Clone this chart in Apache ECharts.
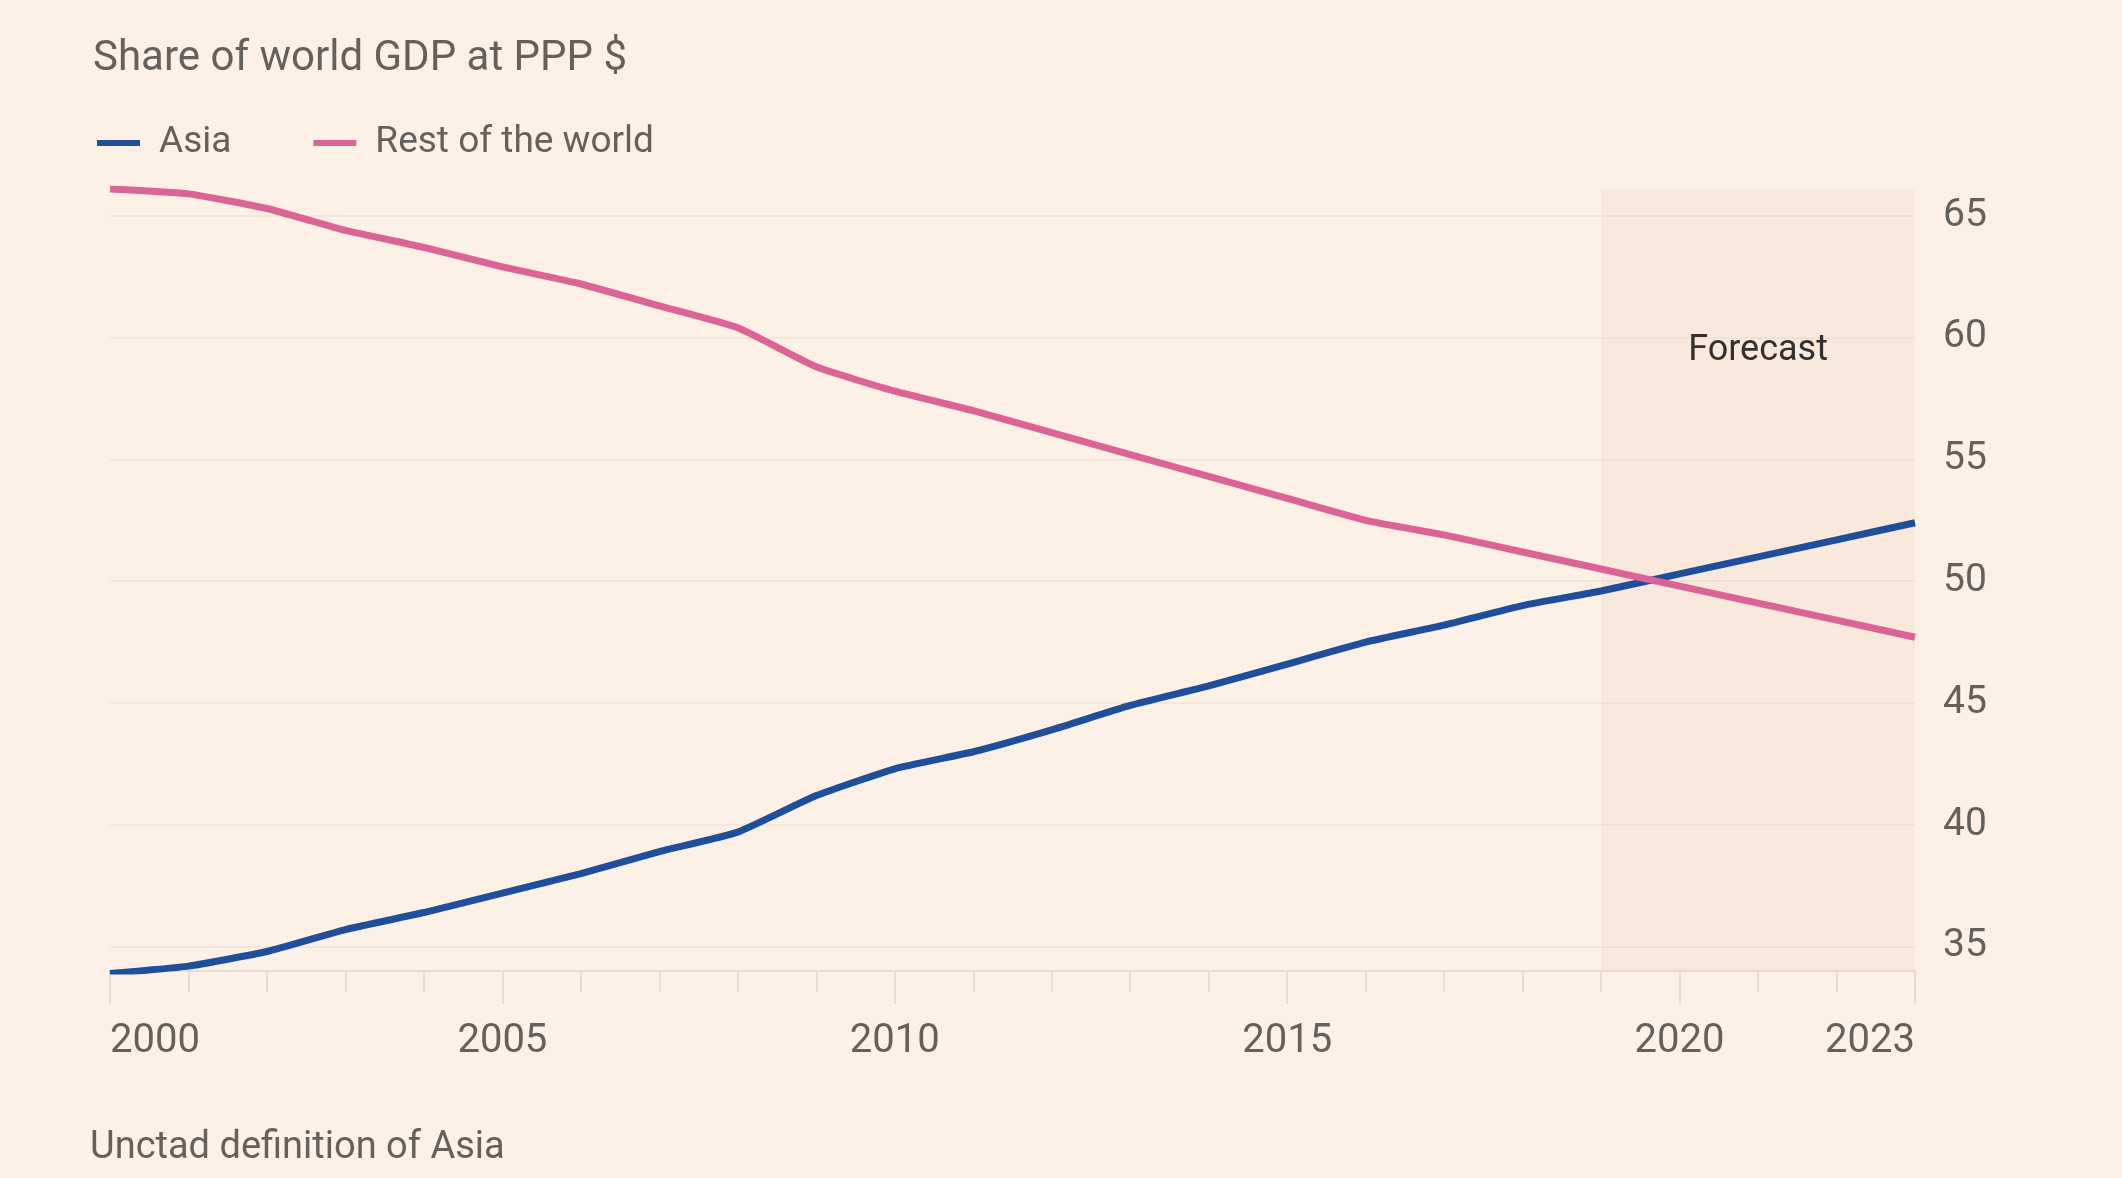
<!DOCTYPE html>
<html>
<head>
<meta charset="utf-8">
<style>
  html, body { margin: 0; padding: 0; background: #fdf1e7; }
  #chart { width: 2122px; height: 1178px; }
</style>
<script src="https://cdn.jsdelivr.net/npm/echarts@6/dist/echarts.min.js"></script>
</head>
<body>
<div id="chart"></div>
<script>
// share of world GDP at PPP $, per cent
var years = ['2000', '2001', '2002', '2003', '2004', '2005', '2006', '2007', '2008', '2009', '2010', '2011',
             '2012', '2013', '2014', '2015', '2016', '2017', '2018', '2019', '2020', '2021', '2022', '2023'];
var asia = [33.9, 34.2, 34.8, 35.7, 36.4, 37.2, 38.0, 38.9, 39.7, 41.2, 42.3, 43.0,
            43.9, 44.9, 45.7, 46.6, 47.5, 48.2, 49.0, 49.6, 50.3, 51.0, 51.7, 52.4];
var restOfWorld = [66.1, 65.9, 65.3, 64.4, 63.7, 62.9, 62.2, 61.3, 60.4, 58.8, 57.8, 57.0,
                   56.1, 55.2, 54.3, 53.4, 52.5, 51.9, 51.2, 50.5, 49.8, 49.1, 48.4, 47.7];
var yTicks = [35, 40, 45, 50, 55, 60, 65];
var labelYears = ['2000', '2005', '2010', '2015', '2020', '2023'];
var forecastFrom = '2019', forecastTo = '2023';

var font = 'Roboto, "Open Sans", sans-serif';
var grey = '#66605c';
var faint = '#e8dbd0';

var chart = echarts.init(document.getElementById('chart'));

function isLabelYear(idx, value) {
    return labelYears.indexOf(value) >= 0;
}

chart.setOption({
    backgroundColor: '#fdf1e7',
    animation: false,
    textStyle: { fontFamily: font },
    title: {
        text: 'Share of world GDP at PPP $',
        left: 88,
        top: 31,
        textStyle: { fontSize: 42, fontWeight: 'normal', color: grey, fontFamily: font, lineHeight: 46 }
    },
    legend: {
        left: 92,
        top: 119,
        icon: 'rect',
        itemWidth: 43,
        itemHeight: 6,
        itemGap: 82,
        textStyle: { fontSize: 37, color: grey, fontFamily: font, lineHeight: 38, padding: [0, 0, 0, 14] },
        data: ['Asia', 'Rest of the world']
    },
    grid: { left: 110, right: 207, top: 189, bottom: 207 },
    xAxis: [{
        type: 'category',
        data: years,
        boundaryGap: false,
        axisLine: { lineStyle: { color: faint, width: 2 } },
        axisTick: { interval: 0, length: 21, lineStyle: { color: faint, width: 2 } },
        axisLabel: {
            interval: isLabelYear,
            margin: 51,
            fontSize: 40,
            color: grey,
            fontFamily: font,
            alignMinLabel: 'left',
            alignMaxLabel: 'right'
        }
    }, {
        type: 'category',
        data: years,
        boundaryGap: false,
        position: 'bottom',
        axisLine: { show: false },
        axisTick: { interval: isLabelYear, length: 33, lineStyle: { color: faint, width: 2 } },
        axisLabel: { show: false }
    }],
    yAxis: {
        type: 'value',
        position: 'right',
        min: 34,
        max: 66.1,
        axisLine: { show: false },
        axisTick: { show: false, customValues: yTicks },
        splitLine: { lineStyle: { color: '#f3e6dc', width: 2 } },
        axisLabel: {
            customValues: yTicks,
            margin: 28,
            fontSize: 39,
            color: grey,
            fontFamily: font
        }
    },
    series: [{
        name: 'Asia',
        type: 'line',
        data: asia,
        smooth: 0.15,
        showSymbol: false,
        color: '#1f4f9a',
        lineStyle: { width: 7, color: '#1f4f9a' },
        markArea: {
            silent: true,
            itemStyle: { color: 'rgba(223,176,146,0.13)' },
            label: {
                position: ['50%', 162],
                align: 'center',
                verticalAlign: 'middle',
                fontSize: 36,
                color: '#33302e',
                fontFamily: font
            },
            data: [[{ xAxis: forecastFrom, name: 'Forecast' }, { xAxis: forecastTo }]]
        }
    }, {
        name: 'Rest of the world',
        type: 'line',
        data: restOfWorld,
        smooth: 0.15,
        showSymbol: false,
        color: '#db6395',
        lineStyle: { width: 7, color: '#db6395' }
    }],
    graphic: [{
        type: 'text',
        left: 90,
        top: 1129,
        style: { text: 'Unctad definition of Asia', fontSize: 38, fill: grey, fontFamily: font }
    }]
});
</script>
</body>
</html>
